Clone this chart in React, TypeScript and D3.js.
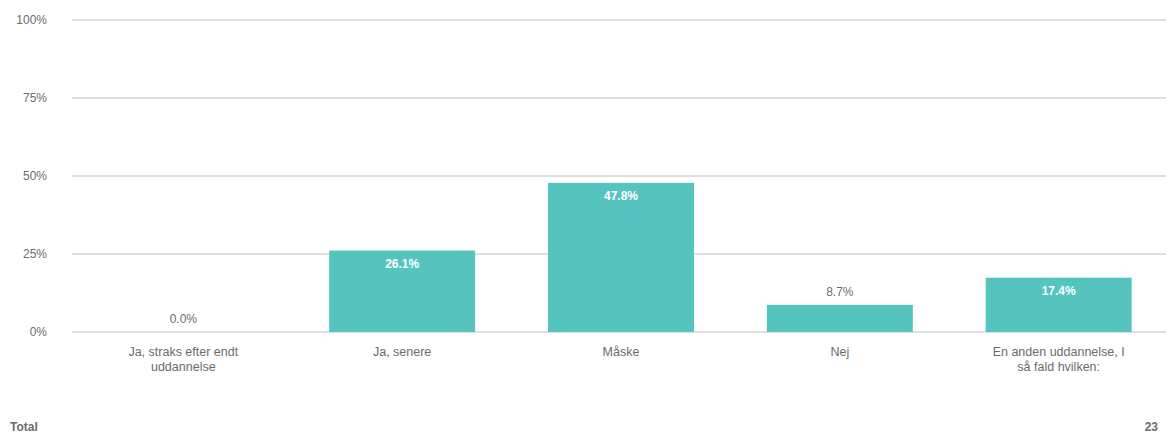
import { useEffect, useRef } from "react";
import * as d3 from "d3";

const categories = [
  ["Ja, straks efter endt", "uddannelse"],
  ["Ja, senere"],
  ["Måske"],
  ["Nej"],
  ["En anden uddannelse, I", "så fald hvilken:"],
];
const values = [0.0, 26.1, 47.8, 8.7, 17.4];
const yTicks = [0, 25, 50, 75, 100];
const total = 23;

const W = 1166;
const H = 437;

export default function App() {
  const ref = useRef<SVGSVGElement>(null);

  useEffect(() => {
    if (!ref.current) return;
    const svg = d3.select(ref.current);
    svg.selectAll("*").remove();

    const margin = { top: 20, right: 0, bottom: 105, left: 72 };
    const font = "'Liberation Sans', Arial, sans-serif";
    const grey = "#6b6b6b";

    const x = d3.scaleBand<number>()
      .domain(values.map((_, i) => i))
      .range([margin.left + 2, W - margin.right + 2])
      .paddingInner(0.333)
      .paddingOuter(0.166);

    const y = d3.scaleLinear()
      .domain([0, 100])
      .range([H - margin.bottom, margin.top]);

    // gridlines + y labels
    const grid = svg.append("g");
    grid.selectAll("line")
      .data(yTicks)
      .join("line")
      .attr("x1", margin.left)
      .attr("x2", W)
      .attr("y1", d => y(d))
      .attr("y2", d => y(d))
      .attr("stroke", "#d6d6d6")
      .attr("stroke-width", 1.5);
    grid.selectAll("text")
      .data(yTicks)
      .join("text")
      .attr("x", 47)
      .attr("y", d => y(d))
      .attr("dy", "0.35em")
      .attr("text-anchor", "end")
      .attr("font-family", font)
      .attr("font-size", 12)
      .attr("fill", grey)
      .text(d => `${d}%`);

    // bars
    svg.append("g")
      .selectAll("rect")
      .data(values)
      .join("rect")
      .attr("x", (_, i) => x(i)!)
      .attr("y", d => y(d))
      .attr("width", x.bandwidth())
      .attr("height", d => y(0) - y(d))
      .attr("fill", "#55c4bf");

    // value labels
    const inside = (d: number) => y(0) - y(d) > 30;
    svg.append("g")
      .selectAll("text")
      .data(values)
      .join("text")
      .attr("x", (_, i) => x(i)! + x.bandwidth() / 2)
      .attr("y", d => (inside(d) ? y(d) + 17 : y(d) - 9))
      .attr("text-anchor", "middle")
      .attr("font-family", font)
      .attr("font-size", 12)
      .attr("font-weight", d => (inside(d) ? "bold" : "normal"))
      .attr("fill", d => (inside(d) ? "#ffffff" : grey))
      .text(d => `${d.toFixed(1)}%`);

    // category labels
    const cat = svg.append("g")
      .selectAll("text")
      .data(categories)
      .join("text")
      .attr("x", (_, i) => x(i)! + x.bandwidth() / 2)
      .attr("y", y(0) + 24)
      .attr("text-anchor", "middle")
      .attr("font-family", font)
      .attr("font-size", 12.5)
      .attr("fill", grey);
    cat.selectAll("tspan")
      .data(d => d)
      .join("tspan")
      .attr("x", function () {
        return (this.parentNode as SVGTextElement).getAttribute("x");
      })
      .attr("dy", (_, j) => (j === 0 ? 0 : 15))
      .text(d => d);

    // footer
    svg.append("text")
      .attr("x", 10)
      .attr("y", 431)
      .attr("font-family", font)
      .attr("font-size", 12)
      .attr("font-weight", "bold")
      .attr("fill", grey)
      .text("Total");
    svg.append("text")
      .attr("x", 1158)
      .attr("y", 431)
      .attr("text-anchor", "end")
      .attr("font-family", font)
      .attr("font-size", 12)
      .attr("font-weight", "bold")
      .attr("fill", grey)
      .text(total);
  }, []);

  return (
    <div style={{ position: "absolute", left: 0, top: 0 }}>
      <svg ref={ref} width={W} height={H} style={{ display: "block", background: "#fff" }} />
    </div>
  );
}
